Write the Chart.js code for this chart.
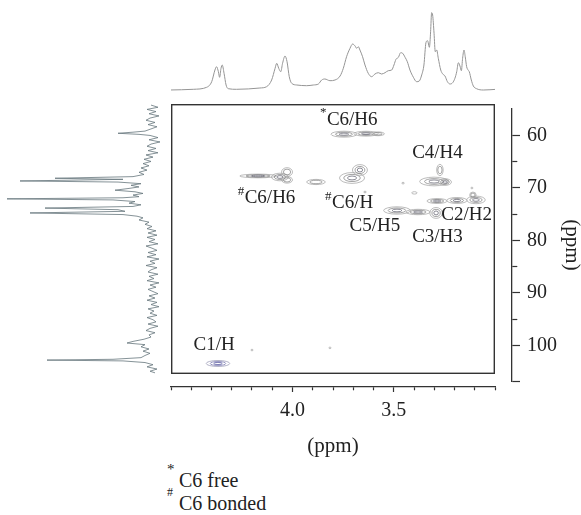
<!DOCTYPE html>
<html>
<head>
<meta charset="utf-8">
<title>HSQC spectrum</title>
<script src="https://cdn.jsdelivr.net/npm/chart.js@4.4.1/dist/chart.umd.min.js"></script>
<style>
html,body{margin:0;padding:0;background:#fff;}
#wrap{position:relative;width:581px;height:515px;overflow:hidden;background:#fff;}
#wrap canvas{position:absolute;display:block;}
.fn{position:absolute;font-family:"Liberation Serif","Times New Roman",serif;color:#222;white-space:nowrap;}
</style>
</head>
<body>
<div id="wrap">
<canvas id="cTop" width="324" height="100" style="left:171px;top:0px"></canvas>
<canvas id="cLeft" width="170" height="271" style="left:0px;top:104px"></canvas>
<canvas id="cMain" width="324" height="270" style="left:171px;top:104px"></canvas>
<canvas id="cBottom" width="581" height="80" style="left:0px;top:380px"></canvas>
<canvas id="cRight" width="91" height="310" style="left:490px;top:90px"></canvas>
<span class="fn" style="left:167px;top:462px;font-size:15px;line-height:15px">*</span>
<span class="fn" style="left:179px;top:470px;font-size:20px;line-height:20px">C6 free</span>
<span class="fn" style="left:167px;top:486px;font-size:12px;line-height:12px">#</span>
<span class="fn" style="left:179px;top:493px;font-size:20px;line-height:20px">C6 bonded</span>
</div>
<script>
// ---------- DATA ----------
// 1H projection (top trace): chemical shift (ppm) and intensity
const topPpm = [4.605,4.490,4.424,4.399,4.383,4.375,4.366,4.360,4.353,4.347,
  4.338,4.328,4.317,4.276,4.161,4.128,4.103,4.086,4.078,4.068,
  4.058,4.049,4.037,4.027,4.016,4.004,3.979,3.930,3.897,3.872,
  3.856,3.840,3.815,3.790,3.765,3.749,3.733,3.716,3.703,3.691,
  3.683,3.675,3.667,3.654,3.642,3.626,3.609,3.593,3.576,3.560,
  3.543,3.527,3.510,3.499,3.489,3.477,3.466,3.456,3.444,3.433,
  3.420,3.403,3.387,3.374,3.362,3.351,3.341,3.333,3.324,3.318,
  3.313,3.308,3.301,3.295,3.288,3.280,3.268,3.258,3.247,3.235,
  3.222,3.209,3.198,3.189,3.181,3.173,3.166,3.160,3.153,3.147,
  3.140,3.133,3.127,3.117,3.107,3.091,3.058,2.992];
const topInt = [0,0.7,2.7,8.3,20,23.3,18.3,12.7,21.7,25,
  16.7,5,1.3,0.7,2,3.3,10,21.7,26.7,21.7,
  18.3,26.7,34,28.3,13.3,6.7,5,4.3,5,6,
  10,11,9.3,10,14,21.7,33.3,41.7,46,44,
  41.7,43.3,40,33.3,25,16.7,13.3,16,17.3,16,
  17.3,19.3,20,25,30.7,32.7,37.3,36.7,32.7,28.3,
  20,12.7,8.3,9,15,25,47.3,49.3,42.7,58.3,
  77.3,75,56.7,38.3,40,31.7,20,16,14,8.3,
  6,7.3,11.7,18.3,27.3,24,19.3,31.7,40,33.3,
  23.3,20,18.3,10,4,1.3,0,0.7];

// 13C projection (left trace): chemical shift (ppm) and intensity
const leftPpm = [55.2,55.6,56.0,56.4,56.8,57.2,57.6,58.0,58.4,58.8,
  59.2,59.6,60.0,60.2,60.4,60.6,60.8,61.2,61.6,62.0,
  62.4,62.8,63.2,63.6,64.0,64.4,64.8,65.2,65.6,66.0,
  66.4,66.8,67.2,67.6,68.0,68.4,68.7,68.9,69.2,69.4,
  69.7,70.0,70.3,70.6,70.9,71.2,71.5,71.8,72.1,72.3,
  72.5,72.7,73.0,73.3,73.6,73.9,74.2,74.5,74.8,75.1,
  75.4,75.7,76.0,76.4,76.8,77.2,77.6,78.0,78.4,78.8,
  79.2,79.6,80.0,80.4,80.8,81.2,81.6,82.0,82.4,82.8,
  83.2,83.6,84.0,84.4,84.8,85.2,85.6,86.0,86.4,86.8,
  87.2,87.6,88.0,88.4,88.8,89.2,89.6,90.0,90.4,90.8,
  91.2,91.6,92.0,92.4,92.8,93.2,93.6,94.0,94.4,94.8,
  95.2,95.6,96.0,96.4,96.8,97.2,97.6,98.0,98.4,98.8,
  99.1,99.4,99.8,100.2,100.6,101.0,101.4,101.8,102.1,102.25,
  102.4,102.7,103.1,103.5,103.9,104.3,104.6];
const leftInt = [2,-5,6,-3,4,-6,3,7,-2,5,
  -4,2,8,20,35,14,3,-5,4,-7,
  2,6,-3,5,-5,7,0,9,2,10,
  4,12,6,14,9,20,98,30,133,35,
  12,22,14,25,38,18,10,20,14,30,
  146,40,18,24,12,20,108,35,28,123,
  30,16,10,14,4,8,1,6,-3,5,
  -4,6,-2,4,-5,7,1,-4,5,-3,
  6,-6,3,-2,7,-4,2,5,-5,4,
  -1,6,-6,3,-3,5,0,-5,4,-2,
  6,-4,2,-6,5,-1,3,-4,6,0,
  -3,5,-5,3,7,-2,4,2,9,20,
  26,8,12,4,10,3,8,12,40,106,
  30,8,0,6,-4,3,-2];

// 2D cross-peak components: 1H shift, 13C shift, half widths (ppm), contour levels
const peakH  = [3.746,3.637,3.578, 4.170,4.062,4.027,4.027, 3.884, 3.706,3.667,
  3.301,3.247,3.272, 3.286,3.188,3.094,3.109, 3.484,3.380, 3.291, 4.368,
  3.454,3.398,3.114,3.642,4.200,3.815];
const peakC  = [60.57,60.48,60.50, 68.28,68.47,67.55,69.00, 69.39, 68.65,67.18,
  69.30,69.40,67.18, 72.90,72.80,72.70,71.80, 74.65,74.93, 75.10, 102.88,
  69.60,71.40,70.50,71.24,100.4,100.0];
const peakWH = [0.064,0.060,0.032, 0.090,0.042,0.027,0.027, 0.046, 0.062,0.037,
  0.071,0.032,0.016, 0.050,0.050,0.046,0.016, 0.066,0.060, 0.031, 0.058,
  0.006,0.013,0.005,0.006,0.005,0.005];
const peakWC = [0.55,0.45,0.35, 0.34,0.70,0.80,0.60, 0.48, 1.00,1.00,
  0.80,0.62,1.05, 0.45,0.55,0.70,0.55, 0.68,0.50, 1.00, 0.55,
  0.14,0.22,0.14,0.14,0.14,0.14];
const peakLevels = [3,3,2, 3,3,2,2, 2, 3,3, 3,3,2, 3,3,3,2, 3,3, 3, 3, 1,1,1,1,1,1];

// Cross-peak assignments (anchored in ppm)
const labelText = ['C6/H6','C4/H4','C6/H6','C6/H','C2/H2','C5/H5','C3/H3','C1/H'];
const labelSup  = ['*','','#','#','','','',''];
const labelH    = [3.705,3.284,4.111,3.703,3.140,3.593,3.284,4.387];
const labelC    = [57.95,64.1,72.4,73.3,75.5,77.6,79.5,99.5];

// Tick values / labels
const xTickValues = [4.6,4.5,4.4,4.3,4.2,4.1,4.0,3.9,3.8,3.7,3.6,3.5,3.4,3.3,3.2,3.1,3.0];
const xTickLabels = ['4.0','3.5'];
const yTickValues = [60,65,70,75,80,85,90,95,100,106.8];
const yTickLabels = [60,70,80,90,100];
const yMajorTicks = [60,70,80,90,100,106.8];

// ---------- CHARTS ----------
const FONT = '"Liberation Serif", "Times New Roman", serif';
Chart.defaults.font.family = FONT;
Chart.defaults.color = '#222';

const base = {
  responsive: false, animation: false, devicePixelRatio: 1, events: [],
  plugins: { legend: { display: false }, tooltip: { enabled: false } }
};

// top 1H projection
new Chart(document.getElementById('cTop'), {
  type: 'scatter',
  data: { datasets: [{
    data: topPpm.map((p, i) => ({ x: p, y: topInt[i] })),
    showLine: true, borderColor: '#959595', borderWidth: 1, pointRadius: 0,
    cubicInterpolationMode: 'monotone', clip: false
  }]},
  options: { ...base,
    scales: {
      x: { type: 'linear', display: false, min: 3.0, max: 4.6, reverse: true },
      y: { type: 'linear', display: false, min: -10, max: 90 }
    }
  }
});

// left 13C projection
new Chart(document.getElementById('cLeft'), {
  type: 'scatter',
  data: { datasets: [{
    data: leftPpm.map((p, i) => ({ x: leftInt[i], y: p })),
    showLine: true, borderColor: '#66767c', borderWidth: 0.8, pointRadius: 0, clip: false
  }]},
  options: { ...base,
    scales: {
      x: { type: 'linear', display: false, min: -17, max: 153, reverse: true },
      y: { type: 'linear', display: false, min: 55, max: 105.0, reverse: true }
    }
  }
});

// main 2D contour map
const boxPlugin = {
  id: 'box',
  afterDraw(chart) {
    const { ctx, chartArea: a } = chart;
    ctx.save();
    ctx.strokeStyle = '#333';
    ctx.lineWidth = 1.4;
    ctx.strokeRect(a.left + 0.7, a.top + 0.7, a.width - 1.4, a.height - 1.4);
    ctx.restore();
  }
};
const contourPlugin = {
  id: 'contours',
  afterDatasetsDraw(chart, args, opts) {
    const { ctx } = chart;
    const xs = chart.scales.x, ys = chart.scales.y;
    const meta = chart.getDatasetMeta(0);
    const scalesK = [1, 0.66, 0.36];
    ctx.save();
    meta.data.forEach((pt, i) => {
      const cx = pt.x, cy = pt.y;
      const rx = Math.abs(xs.getPixelForValue(peakH[i] + peakWH[i]) - cx);
      const ry = Math.abs(ys.getPixelForValue(peakC[i] + peakWC[i]) - cy);
      const cols = opts.blue.includes(i) ? opts.blueColors : opts.colors;
      for (let k = 0; k < peakLevels[i]; k++) {
        ctx.beginPath();
        ctx.ellipse(cx, cy, Math.max(rx * scalesK[k], 0.8), Math.max(ry * scalesK[k], 0.8), 0, 0, Math.PI * 2);
        ctx.strokeStyle = cols[k];
        ctx.lineWidth = 0.75;
        ctx.stroke();
      }
    });
    ctx.restore();
  }
};
const labelPlugin = {
  id: 'peakLabels',
  afterDatasetsDraw(chart) {
    const { ctx } = chart;
    const xs = chart.scales.x, ys = chart.scales.y;
    ctx.save();
    ctx.fillStyle = '#222';
    ctx.textBaseline = 'middle';
    labelText.forEach((t, i) => {
      const px = xs.getPixelForValue(labelH[i]);
      const py = ys.getPixelForValue(labelC[i]);
      ctx.font = '19px ' + FONT;
      ctx.textAlign = 'center';
      ctx.fillText(t, px, py);
      if (labelSup[i]) {
        const w = ctx.measureText(t).width;
        ctx.font = '13px ' + FONT;
        ctx.textAlign = 'right';
        ctx.fillText(labelSup[i], px - w / 2 - 0.5, py - 7);
      }
    });
    ctx.restore();
  }
};
new Chart(document.getElementById('cMain'), {
  type: 'scatter',
  data: { datasets: [{ data: peakH.map((h, i) => ({ x: h, y: peakC[i] })), pointRadius: 0 }] },
  options: { ...base,
    plugins: { ...base.plugins,
      contours: { colors: ['#a6a6a6', '#858585', '#636370'], blueColors: ['#9a9ab4', '#7878b0', '#5858a0'], blue: [20] }
    },
    scales: {
      x: { type: 'linear', display: false, min: 3.0, max: 4.6, reverse: true },
      y: { type: 'linear', display: false, min: 55, max: 104.82, reverse: true }
    }
  },
  plugins: [contourPlugin, labelPlugin, boxPlugin]
});

// bottom 1H axis
new Chart(document.getElementById('cBottom'), {
  type: 'scatter',
  data: { datasets: [{ data: [] }] },
  options: { ...base,
    layout: { padding: { left: 171, right: 86, top: 0, bottom: 0 } },
    scales: {
      x: {
        type: 'linear', position: 'bottom', min: 3.0, max: 4.6, reverse: true,
        afterBuildTicks: a => { a.ticks = xTickValues.map(v => ({ value: v })); },
        afterFit: a => { a.height = 73; },
        border: { display: true, color: '#333', width: 1.3 },
        grid: { drawOnChartArea: false, drawTicks: true, tickLength: 5, tickColor: '#333', tickWidth: 1.2,
          tickBorderDash: c => (c.tick && !xTickLabels.includes(c.tick.value.toFixed(1))) ? [3, 40] : [] },
        ticks: { autoSkip: false, maxRotation: 0, padding: 7, font: { size: 20 }, color: '#222',
          callback: v => { const s = Number(v).toFixed(1); return xTickLabels.includes(s) ? s : ''; } },
        title: { display: true, text: '(ppm)', font: { size: 21 }, color: '#222', padding: { top: 0, bottom: 1 } }
      },
      y: { display: false }
    }
  }
});

// right 13C axis
new Chart(document.getElementById('cRight'), {
  type: 'scatter',
  data: { datasets: [{ data: [] }] },
  options: { ...base,
    layout: { padding: { left: 0, right: 0, top: 14, bottom: 15 } },
    scales: {
      x: { display: false },
      y: {
        type: 'linear', position: 'right', min: 55, max: 106.8, reverse: true,
        afterBuildTicks: a => { a.ticks = yTickValues.map(v => ({ value: v })); },
        afterFit: a => { a.width = 69; },
        border: { display: true, color: '#333', width: 1.3 },
        grid: { drawOnChartArea: false, drawTicks: true, tickLength: 8, tickColor: '#333', tickWidth: 1.2,
          tickBorderDash: c => (c.tick && !yMajorTicks.includes(c.tick.value)) ? [5, 40] : [] },
        ticks: { autoSkip: false, padding: 7, font: { size: 20 }, color: '#222',
          callback: v => yTickLabels.includes(v) ? String(v) : '' },
        title: { display: true, text: '(ppm)', font: { size: 21 }, color: '#222', padding: { top: -3, bottom: 0 } }
      }
    }
  }
});
</script>
</body>
</html>
